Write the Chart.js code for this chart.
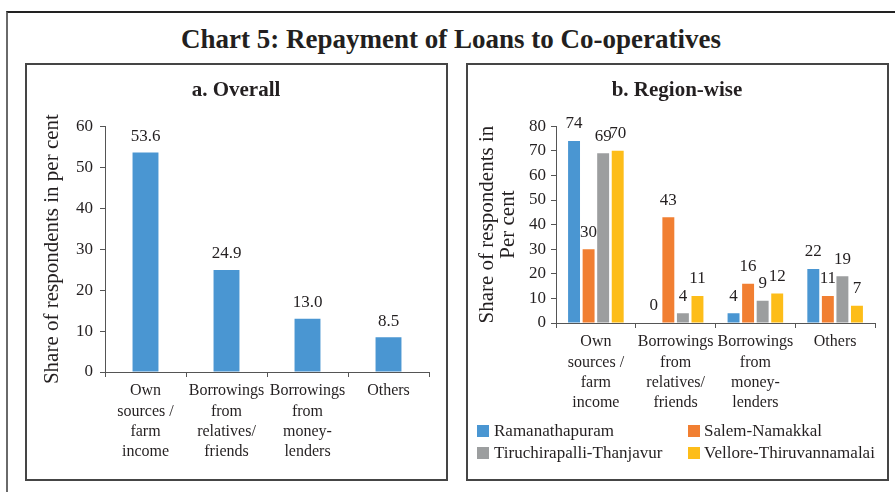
<!DOCTYPE html>
<html>
<head>
<meta charset="utf-8">
<script src="https://cdn.jsdelivr.net/npm/chart.js@4.4.0/dist/chart.umd.min.js"></script>
<style>
  html, body { margin:0; padding:0; background:#fff; }
  body { width:895px; height:492px; overflow:hidden; position:relative; font-family:"Liberation Serif", serif; color:#231f20; }
  #frame { position:absolute; left:6px; top:11px; width:1000px; height:1000px; border-left:2px solid #6a6a6a; border-top:2px solid #222; }
  #mainTitle { position:absolute; left:0; top:24px; width:902px; text-align:center; font:bold 27px/31px "Liberation Serif", serif; color:#231f20; white-space:nowrap; }
  .panel { position:absolute; top:63px; width:423px; height:418px; box-sizing:border-box; border:2px solid #454545; }
  canvas { position:absolute; top:63px; }
</style>
</head>
<body>
<div id="frame"></div>
<div id="mainTitle">Chart 5: Repayment of Loans to Co-operatives</div>
<div class="panel" style="left:25px"></div>
<div class="panel" style="left:466px"></div>
<canvas id="chartA" width="423" height="417" style="left:25px"></canvas>
<canvas id="chartB" width="423" height="417" style="left:466px"></canvas>
<script>
// ---------- data ----------
const categories = [
  ["Own", "sources /", "farm", "income"],
  ["Borrowings", "from", "relatives/", "friends"],
  ["Borrowings", "from", "money-", "lenders"],
  ["Others"]
];
const overallValues = [53.6, 24.9, 13.0, 8.5];

const regionNames = ["Ramanathapuram", "Salem-Namakkal", "Tiruchirapalli-Thanjavur", "Vellore-Thiruvannamalai"];
const ramanathapuram = [74, 0, 4, 22];
const salemNamakkal = [30, 43, 16, 11];
const tiruchiThanjavur = [69, 4, 9, 19];
const velloreThiruvannamalai = [70, 11, 12, 7];

const overallAxis = { min: 0, max: 60, step: 10 };
const regionAxis = { min: 0, max: 80, step: 10 };

const panelTitles = ["a. Overall", "b. Region-wise"];
const yTitleA = "Share of respondents in per cent";
const yTitleB = ["Share of respondents in", "Per cent"];

// ---------- styles ----------
const FONT = '"Liberation Serif", "Times New Roman", serif';
const TEXT = '#231f20';
const AXIS = '#555555';
const COLORS = ['#4a96d2', '#f17f32', '#9c9e9f', '#fdbd19'];

// ---------- plugins ----------
const valueLabels = {
  id: 'valueLabels',
  afterDatasetsDraw(chart, args, opts) {
    const ctx = chart.ctx;
    ctx.save();
    ctx.font = opts.size + 'px ' + FONT;
    ctx.fillStyle = TEXT;
    ctx.textAlign = 'center';
    ctx.textBaseline = 'middle';
    chart.data.datasets.forEach((ds, i) => {
      const meta = chart.getDatasetMeta(i);
      meta.data.forEach((bar, j) => {
        const v = ds.data[j];
        ctx.fillText(v.toFixed(opts.decimals), bar.x, bar.y - opts.offset);
      });
    });
    ctx.restore();
  }
};

const gridLegend = {
  id: 'gridLegend',
  afterDraw(chart, args, opts) {
    if (!opts.enabled) return;
    const ctx = chart.ctx;
    ctx.save();
    ctx.font = opts.size + 'px ' + FONT;
    ctx.textBaseline = 'middle';
    ctx.textAlign = 'left';
    chart.data.datasets.forEach((ds, i) => {
      const col = i % 2, row = Math.floor(i / 2);
      const cy = opts.rows[row];
      ctx.fillStyle = ds.backgroundColor;
      ctx.fillRect(opts.boxX[col], cy - opts.box / 2, opts.box, opts.box);
      ctx.fillStyle = TEXT;
      ctx.fillText(ds.label, opts.textX[col], cy + 1);
    });
    ctx.restore();
  }
};

function axisX(height, fontSize) {
  return {
    grid: { drawOnChartArea: false, drawTicks: true, tickLength: 5, color: AXIS, offset: true },
    border: { display: true, color: AXIS, width: 1 },
    ticks: { color: TEXT, font: { family: FONT, size: fontSize, lineHeight: 1.27 }, padding: 4, maxRotation: 0, minRotation: 0, autoSkip: false },
    afterFit(s) { s.height = height; }
  };
}
function axisY(range, width, fontSize, titleText, titlePad, tickPad) {
  return {
    min: range.min, max: range.max,
    ticks: { stepSize: range.step, color: TEXT, font: { family: FONT, size: fontSize }, padding: tickPad },
    grid: { drawOnChartArea: false, drawTicks: true, tickLength: 5, color: AXIS },
    border: { display: true, color: AXIS, width: 1 },
    title: { display: true, text: titleText, color: TEXT, font: { family: FONT, size: 21, lineHeight: 1 }, padding: { top: titlePad, bottom: 0 } },
    afterFit(s) { s.width = width; }
  };
}
function titleOpts(text) {
  return { display: true, text: text, color: TEXT, font: { family: FONT, size: 21, weight: 'bold', lineHeight: 1.2 }, padding: { top: 15, bottom: 23 } };
}

// ---------- chart a ----------
new Chart(document.getElementById('chartA'), {
  type: 'bar',
  data: {
    labels: categories,
    datasets: [{ label: 'Overall', data: overallValues, backgroundColor: COLORS[0], barPercentage: 1, categoryPercentage: 0.32 }]
  },
  options: {
    responsive: false, animation: false, devicePixelRatio: 1,
    layout: { padding: { left: 18, right: 19, top: 0, bottom: 0 } },
    plugins: {
      legend: { display: false }, tooltip: { enabled: false },
      title: titleOpts(panelTitles[0]),
      valueLabels: { decimals: 1, offset: 16, size: 17 },
      gridLegend: { enabled: false }
    },
    scales: {
      x: axisX(108, 16),
      y: axisY(overallAxis, 62, 17, yTitleA, -1.5, 7)
    }
  },
  plugins: [valueLabels, gridLegend]
});

// ---------- chart b ----------
const regionSeries = [ramanathapuram, salemNamakkal, tiruchiThanjavur, velloreThiruvannamalai];
new Chart(document.getElementById('chartB'), {
  type: 'bar',
  data: {
    labels: categories,
    datasets: regionSeries.map((vals, i) => ({
      label: regionNames[i], data: vals, backgroundColor: COLORS[i],
      barPercentage: 0.82, categoryPercentage: 0.73
    }))
  },
  options: {
    responsive: false, animation: false, devicePixelRatio: 1,
    layout: { padding: { left: 13, right: 14, top: 0, bottom: 0 } },
    plugins: {
      legend: { display: false }, tooltip: { enabled: false },
      title: titleOpts(panelTitles[1]),
      valueLabels: { decimals: 0, offset: 17, size: 17 },
      gridLegend: { enabled: true, size: 17, box: 12, boxX: [11, 222], textX: [28, 238], rows: [368, 390] }
    },
    scales: {
      x: axisX(157, 16),
      y: axisY(regionAxis, 77, 17, yTitleB, -2.5, 5)
    }
  },
  plugins: [valueLabels, gridLegend]
});
</script>
</body>
</html>
